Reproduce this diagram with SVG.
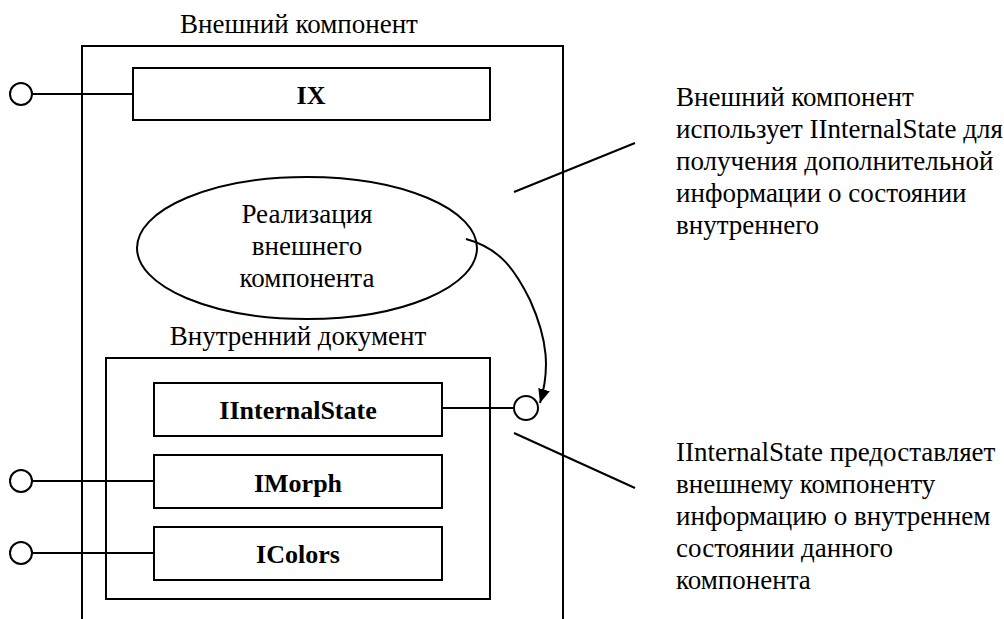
<svg xmlns="http://www.w3.org/2000/svg" width="1004" height="619" viewBox="0 0 1004 619">
  <style>
    .box { fill: #fff; stroke: #000; stroke-width: 2; }
    .frame { fill: none; stroke: #000; stroke-width: 2; }
    .wire { fill: none; stroke: #000; stroke-width: 2; }
    .port { fill: #fff; stroke: #000; stroke-width: 2; }
    .t { font-family: "Liberation Serif", "Times New Roman", serif; font-size: 27px; fill: #000; }
    .c { text-anchor: middle; }
    .b { font-weight: bold; font-size: 26px; }
  </style>
  <defs>
    <marker id="arrow" viewBox="0 0 14 12" refX="14" refY="6" markerWidth="14" markerHeight="12" markerUnits="userSpaceOnUse" orient="auto">
      <path d="M0,0 L14,6 L0,12 z" fill="#000"/>
    </marker>
  </defs>

  <!-- outer component frame -->
  <g id="outer">
    <text class="t c" x="299" y="33">Внешний компонент</text>
    <path class="frame" d="M82,625 V46 H563 V625"/>
  </g>

  <g id="ix">
    <rect class="box" x="133" y="68" width="357" height="52"/>
    <text class="t c b" x="311" y="104">IX</text>
  </g>

  <g id="impl">
    <ellipse class="box" cx="307" cy="248" rx="170" ry="71"/>
    <text class="t c" x="307" y="223">Реализация</text>
    <text class="t c" x="307" y="255">внешнего</text>
    <text class="t c" x="307" y="287">компонента</text>
  </g>

  <!-- inner document frame -->
  <g id="inner">
    <text class="t c" x="298" y="345">Внутренний документ</text>
    <rect class="frame" x="106" y="358" width="384" height="241"/>
  </g>

  <g id="istate">
    <rect class="box" x="154" y="383" width="288" height="53"/>
    <text class="t c b" x="298" y="419">IInternalState</text>
  </g>

  <g id="imorph">
    <rect class="box" x="154" y="455" width="288" height="53"/>
    <text class="t c b" x="298" y="492">IMorph</text>
  </g>

  <g id="icolors">
    <rect class="box" x="154" y="527" width="288" height="53"/>
    <text class="t c b" x="298" y="563">IColors</text>
  </g>

  <g id="notes">
    <text class="t" x="676" y="106">Внешний компонент</text>
    <text class="t" x="676" y="138">использует IInternalState для</text>
    <text class="t" x="676" y="170">получения дополнительной</text>
    <text class="t" x="676" y="202">информации о состоянии</text>
    <text class="t" x="676" y="234">внутреннего</text>
    <text class="t" x="676" y="461">IInternalState предоставляет</text>
    <text class="t" x="676" y="493">внешнему компоненту</text>
    <text class="t" x="676" y="525">информацию о внутреннем</text>
    <text class="t" x="676" y="557">состоянии данного</text>
    <text class="t" x="676" y="589">компонента</text>
  </g>

  <!-- connectors: lollipop interfaces, usage arrow, note leaders -->
  <g id="connectors">
    <line class="wire" x1="32" y1="94" x2="133" y2="94"/>
    <circle class="port" cx="21" cy="94" r="11"/>
    <line class="wire" x1="32" y1="481" x2="154" y2="481"/>
    <circle class="port" cx="21" cy="481" r="11"/>
    <line class="wire" x1="32" y1="553" x2="154" y2="553"/>
    <circle class="port" cx="21" cy="553" r="11"/>
    <line class="wire" x1="442" y1="408" x2="514" y2="408"/>
    <circle class="port" cx="526" cy="408" r="12"/>
    <path class="wire" d="M466,239 C500,248 515,270 530,300 C548,340 550,370 540,403" marker-end="url(#arrow)"/>
    <line class="wire" x1="514" y1="192" x2="635" y2="143"/>
    <line class="wire" x1="514" y1="433" x2="635" y2="488"/>
  </g>
</svg>
